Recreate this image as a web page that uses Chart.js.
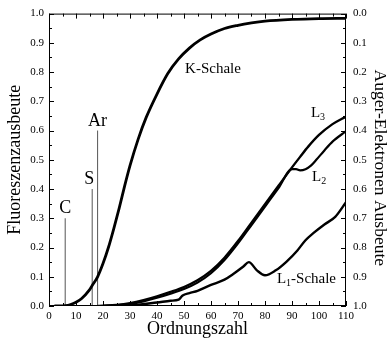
<!DOCTYPE html>
<html><head><meta charset="utf-8">
<script src="https://cdn.jsdelivr.net/npm/chart.js@4/dist/chart.umd.min.js"></script>
<style>html,body{margin:0;padding:0;background:#fff}</style>
</head><body>
<canvas id="c" width="390" height="341"></canvas>
<script>
// K-Schale
const kZ = [2, 4, 6, 8, 10, 12, 15, 16, 18, 20, 22, 24, 26, 28, 30, 33, 36, 40, 44, 48, 52, 56, 60, 65, 70, 75, 80, 90, 100, 110];
const kY = [0, 0, 0.001, 0.005, 0.013, 0.025, 0.055, 0.07, 0.1, 0.145, 0.2, 0.265, 0.335, 0.41, 0.48, 0.57, 0.645, 0.725, 0.795, 0.845, 0.882, 0.91, 0.93, 0.949, 0.96, 0.968, 0.974, 0.98, 0.983, 0.984];
// L3
const l3Z = [18, 20, 25, 30, 35, 40, 45, 50, 55, 60, 65, 70, 75, 80, 85, 90, 93, 96, 100, 105, 110];
const l3Y = [0, 0.001, 0.004, 0.01, 0.02, 0.033, 0.048, 0.065, 0.088, 0.12, 0.165, 0.222, 0.285, 0.348, 0.411, 0.474, 0.51, 0.545, 0.585, 0.622, 0.648];
// L2
const l2Z = [18, 20, 25, 30, 35, 40, 45, 50, 55, 60, 65, 70, 75, 80, 85, 90, 91.5, 93, 95, 97, 99, 102, 105, 110];
const l2Y = [0, 0.0, 0.002, 0.007, 0.016, 0.028, 0.042, 0.058, 0.08, 0.112, 0.157, 0.214, 0.277, 0.34, 0.403, 0.468, 0.468, 0.464, 0.468, 0.48, 0.5, 0.532, 0.562, 0.598];
// L1-Schale
const l1Z = [20, 30, 40, 45, 48, 49.5, 52, 55, 60, 65, 68, 72, 74, 77, 80, 84, 88, 92, 95, 98, 102, 106, 110];
const l1Y = [0, 0.002, 0.012, 0.018, 0.022, 0.036, 0.044, 0.052, 0.072, 0.09, 0.108, 0.135, 0.15, 0.122, 0.105, 0.122, 0.152, 0.19, 0.225, 0.25, 0.279, 0.305, 0.355];
// element marker lines
const elemNames = ['C', 'S', 'Ar'];
const elemZ = [6, 16, 18];
const elemTop = [0.30, 0.40, 0.60];
// tick labels
const xTicks = [0, 10, 20, 30, 40, 50, 60, 70, 80, 90, 100, 110];
const yTicks = [0.0, 0.1, 0.2, 0.3, 0.4, 0.5, 0.6, 0.7, 0.8, 0.9, 1.0];
// curve labels
const curveLabels = [
  {main: 'K-Schale', sub: '', rest: '', z: 50.4, v: 0.797},
  {main: 'L', sub: '3', rest: '', z: 97.0, v: 0.645},
  {main: 'L', sub: '2', rest: '', z: 97.4, v: 0.426},
  {main: 'L', sub: '1', rest: '-Schale', z: 84.4, v: 0.078}
];

const SERIF = "'Liberation Serif', 'Times New Roman', serif";
Chart.defaults.font.family = SERIF;
Chart.defaults.color = '#000';

const pts = (zs, ys) => zs.map((z, i) => ({x: z, y: ys[i]}));
const curveDs = (zs, ys, w) => ({data: pts(zs, ys), showLine: true, borderColor: '#000', borderWidth: w,
  pointRadius: 0, cubicInterpolationMode: 'monotone', fill: false, yAxisID: 'y'});

const datasets = [
  curveDs(kZ, kY, 2.8),
  curveDs(l3Z, l3Y, 2.4),
  curveDs(l2Z, l2Y, 2.2),
  curveDs(l1Z, l1Y, 2.4)
];
elemZ.forEach((z, i) => datasets.push({data: [{x: z, y: 0}, {x: z, y: elemTop[i]}], showLine: true,
  borderColor: '#555', borderWidth: 1, pointRadius: 0, yAxisID: 'y'}));

const decor = {
  id: 'decor',
  afterDraw(chart) {
    const ctx = chart.ctx, a = chart.chartArea;
    const xs = chart.scales.x, ys = chart.scales.y;
    ctx.save();
    ctx.strokeStyle = '#000';
    ctx.lineWidth = 1;
    ctx.strokeRect(a.left + 0.5, a.top + 0.5, a.right - a.left - 1, a.bottom - a.top - 1);
    ctx.beginPath();
    for (let z = 0; z <= 110; z += 5) {
      const px = Math.round(xs.getPixelForValue(z)) + 0.5;
      const L = (z % 10 === 0) ? 5 : 3;
      ctx.moveTo(px, a.bottom); ctx.lineTo(px, a.bottom - L);
      ctx.moveTo(px, a.top); ctx.lineTo(px, a.top + L);
    }
    for (let k = 0; k <= 20; k++) {
      const v = k * 0.05;
      const py = Math.round(ys.getPixelForValue(v)) + 0.5;
      const L = (k % 2 === 0) ? 5 : 3;
      ctx.moveTo(a.left, py); ctx.lineTo(a.left + L, py);
      ctx.moveTo(a.right, py); ctx.lineTo(a.right - L, py);
    }
    ctx.stroke();

    // element labels
    ctx.fillStyle = '#000';
    ctx.font = '18px ' + SERIF;
    ctx.textAlign = 'center';
    ctx.textBaseline = 'alphabetic';
    elemNames.forEach((n, i) => {
      let px = xs.getPixelForValue(elemZ[i]);
      if (n === 'S') px -= 3;
      ctx.fillText(n, px, ys.getPixelForValue(elemTop[i]) - 5);
    });

    // curve labels
    ctx.textAlign = 'left';
    curveLabels.forEach(c => {
      let px = xs.getPixelForValue(c.z);
      const py = ys.getPixelForValue(c.v);
      ctx.font = '15px ' + SERIF;
      ctx.fillText(c.main, px, py);
      px += ctx.measureText(c.main).width;
      if (c.sub) {
        ctx.font = '10px ' + SERIF;
        ctx.fillText(c.sub, px, py + 3);
        px += ctx.measureText(c.sub).width;
      }
      if (c.rest) {
        ctx.font = '15px ' + SERIF;
        ctx.fillText(c.rest, px, py);
      }
    });

    // axis titles
    ctx.font = '18px ' + SERIF;
    ctx.textAlign = 'center';
    ctx.textBaseline = 'middle';
    ctx.fillText('Ordnungszahl', (a.left + a.right) / 2, 329);
    ctx.save();
    ctx.translate(15, (a.top + a.bottom) / 2);
    ctx.rotate(-Math.PI / 2);
    ctx.fillText('Fluoreszenzausbeute', 0, 0);
    ctx.restore();
    ctx.save();
    ctx.translate(380, (a.top + a.bottom) / 2 + 8);
    ctx.rotate(Math.PI / 2);
    ctx.font = '17.5px ' + SERIF;
    ctx.fillText('Auger-Elektronen Ausbeute', 0, 0);
    ctx.restore();
    ctx.restore();
  }
};

new Chart(document.getElementById('c'), {
  type: 'scatter',
  data: {datasets},
  options: {
    responsive: false,
    animation: false,
    devicePixelRatio: 1,
    layout: {padding: {top: 10, left: 0, right: 0, bottom: 0}},
    plugins: {legend: {display: false}, tooltip: {enabled: false}},
    scales: {
      x: {
        type: 'linear', min: 0, max: 110,
        afterBuildTicks: s => { s.ticks = xTicks.map(v => ({value: v})); },
        ticks: {font: {size: 11}, padding: 4, maxRotation: 0, autoSkip: false},
        grid: {display: false, drawTicks: false},
        border: {display: false},
        afterFit: s => { s.height = 35; }
      },
      y: {
        type: 'linear', position: 'left', min: 0, max: 1,
        afterBuildTicks: s => { s.ticks = yTicks.map(v => ({value: v})); },
        ticks: {font: {size: 11}, padding: 5, callback: v => Number(v).toFixed(1)},
        grid: {display: false, drawTicks: false},
        border: {display: false},
        afterFit: s => { s.width = 49; }
      },
      y2: {
        type: 'linear', position: 'right', min: 0, max: 1, reverse: true,
        afterBuildTicks: s => { s.ticks = yTicks.map(v => ({value: v})); },
        ticks: {font: {size: 11}, padding: 7, callback: v => Number(v).toFixed(1)},
        grid: {display: false, drawTicks: false},
        border: {display: false},
        afterFit: s => { s.width = 44; }
      }
    }
  },
  plugins: [decor]
});
</script>
</body></html>
